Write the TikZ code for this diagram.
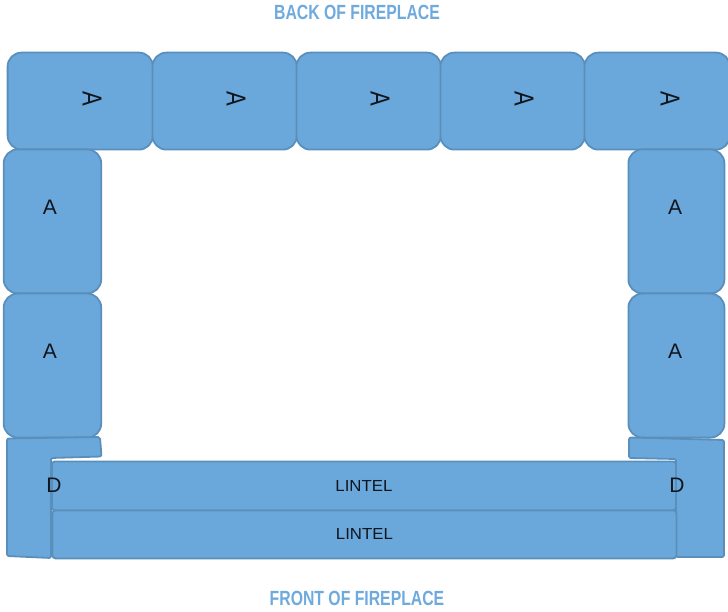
\documentclass[tikz,border=0pt]{standalone}
\usepackage{fontspec}
\setmainfont{Liberation Sans}
\definecolor{blockfill}{HTML}{6AA8DC}
\definecolor{blockline}{HTML}{5A8FBC}
\definecolor{headblue}{HTML}{6FAADD}
\definecolor{labelink}{HTML}{10161E}
\tikzset{
  block/.style={draw=blockline,fill=blockfill,line width=1.8pt,rounded corners=14pt,inner sep=0pt},
  flatpart/.style={draw=blockline,fill=blockfill,line width=1.8pt,rounded corners=2pt,line join=round},
  lintelbox/.style={draw=blockline,fill=blockfill,line width=1.8pt,rounded corners=3pt,inner sep=0pt,text=labelink,font=\fontsize{16}{16}\selectfont},
  heading/.style={text=headblue,font=\bfseries\fontsize{20.5}{21}\selectfont,xscale=0.77,inner sep=0pt},
  letter/.style={text=labelink,font=\fontsize{21}{21}\selectfont,inner sep=0pt},
  sideletter/.style={letter,font=\fontsize{22}{22}\selectfont,rotate=-90,yscale=1.25}
}
\begin{document}
\begin{tikzpicture}[x=1pt,y=-1pt]
\useasboundingbox (0,0) rectangle (728,612);
\fill[white] (0,0) rectangle (728,612);
% top row
\foreach \n/\xa/\w in {t1/6.7/145.3,t2/151.5/144.5,t3/295.5/144.5,t4/439.5/144.5,t5/583.5/145.5}{
  \node[block,minimum width=\w pt,minimum height=97pt,anchor=north west] (\n) at (\xa,51.7) {};
}
\node[sideletter] (ta1) at (92,99) {A};
\node[sideletter] (ta2) at (236,99) {A};
\node[sideletter] (ta3) at (380,99) {A};
\node[sideletter] (ta4) at (524,99) {A};
\node[sideletter] (ta5) at (670,99) {A};
% side columns
\node[block,minimum width=97.5pt,minimum height=144pt,anchor=north west] (l1) at (2.8,148.5) {};
\node[block,minimum width=97.5pt,minimum height=144pt,anchor=north west] (l2) at (2.8,292.7) {};
\node[block,minimum width=96pt,minimum height=144pt,anchor=north west] (r1) at (627.5,148.5) {};
\node[block,minimum width=96pt,minimum height=144pt,anchor=north west] (r2) at (627.5,292.7) {};
\node[letter] (la1) at (50,207) {A};
\node[letter] (la2) at (50,351) {A};
\node[letter] (ra1) at (675,207) {A};
\node[letter] (ra2) at (675,351) {A};
% corner D pieces
\draw[flatpart] (7,438.5) -- (100,437) -- (101.5,456.5) -- (51,458) -- (51,558) -- (7,556) -- cycle;
\draw[flatpart] (629,437.5) -- (724,440) -- (724,557) -- (676,557) -- (676,459) -- (629,458) -- cycle;
% lintels
\node[lintelbox,minimum width=624pt,minimum height=49pt,anchor=north west] (li1) at (51,460.5) {\scalebox{1.05}[1]{LINTEL}};
\node[lintelbox,minimum width=624pt,minimum height=48pt,anchor=north west] (li2) at (51.5,509.5) {\scalebox{1.05}[1]{LINTEL}};
\node[letter] (dl) at (54,485) {D};
\node[letter] (dr) at (677,485) {D};
% headings
\node[heading] (back) at (357,12) {BACK OF FIREPLACE};
\node[heading] (front) at (357,598) {FRONT OF FIREPLACE};
\end{tikzpicture}
\end{document}
